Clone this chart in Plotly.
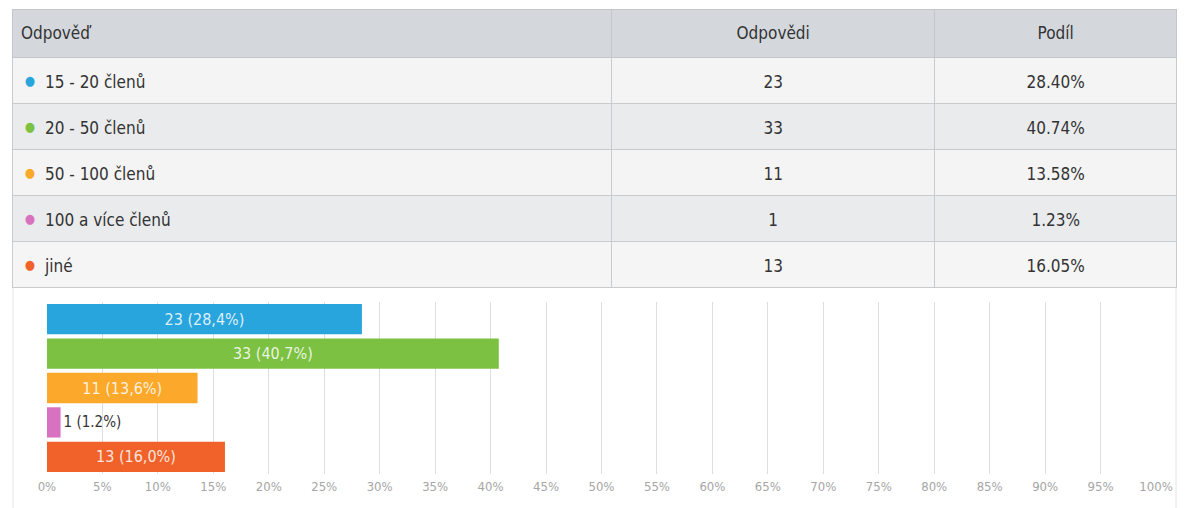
import plotly.graph_objects as go

# ---- data ----
categories = ["15 - 20 členů", "20 - 50 členů", "50 - 100 členů", "100 a více členů", "jiné"]
counts = [23, 33, 11, 1, 13]
shares = [28.40, 40.74, 13.58, 1.23, 16.05]
bar_labels = ["23 (28,4%)", "33 (40,7%)", "11 (13,6%)", "1 (1.2%)", "13 (16,0%)"]
colors = ["#29a5de", "#7cc142", "#fba82b", "#d872c0", "#f1622a"]
tick_vals = list(range(0, 101, 5))
tick_text = [f"{v}%" for v in tick_vals]
headers = ["Odpověď", "Odpovědi", "Podíl"]

W, H = 1194, 508
# the page shows the paper from x=8 to x=1178
X0, XW = 8, 1170
FONT = "DejaVu Sans Condensed, Liberation Sans Narrow, sans-serif"

def px_x(p):
    return min(1.0, max(0.0, (p - X0) / XW))

def px_y(p):
    return 1 - p / H

row_fill = ["#f4f4f4", "#e9ebed", "#f4f4f4", "#e9ebed", "#f5f5f5"]
n = len(categories)
col_w = [600, 323, 243]
text_col_w = [24, 576, 323, 243]
CLEAR = "rgba(0,0,0,0)"
INK = "#333333"

fig = go.Figure()

# table grid: fills and lines
fig.add_trace(go.Table(
    domain=dict(x=[px_x(12), px_x(1178)], y=[px_y(288), px_y(9)]),
    columnwidth=col_w,
    header=dict(
        values=["", "", ""],
        fill_color="#d4d8dd",
        line=dict(color="#c3c6ca", width=1),
        height=48,
    ),
    cells=dict(
        values=[[""] * n, [""] * n, [""] * n],
        fill_color=[row_fill, row_fill, row_fill],
        line=dict(color="#c9cccf", width=1),
        height=46,
    ),
))

# header text, laid over the grid so it sits in the middle of the header row
fig.add_trace(go.Table(
    domain=dict(x=[px_x(12), px_x(1178)], y=[px_y(293), px_y(18)]),
    columnwidth=col_w,
    header=dict(
        values=headers,
        fill_color=CLEAR,
        line=dict(color=CLEAR, width=0),
        align=["left", "center", "center"],
        font=dict(family=FONT, size=17, color=INK),
        height=45,
    ),
    cells=dict(
        values=[[""] * n, [""] * n, [""] * n],
        fill_color=CLEAR,
        line=dict(color=CLEAR, width=0),
        height=46,
    ),
))

# body text (dot column + three data columns), centred in each row
fig.add_trace(go.Table(
    domain=dict(x=[px_x(12), px_x(1178)], y=[px_y(297), px_y(18)]),
    columnwidth=text_col_w,
    header=dict(
        values=["", "", "", ""],
        fill_color=CLEAR,
        line=dict(color=CLEAR, width=0),
        height=49,
    ),
    cells=dict(
        values=[["\u00a0●"] * n, categories, [str(c) for c in counts], [f"{s:.2f}%" for s in shares]],
        fill_color=CLEAR,
        line=dict(color=CLEAR, width=0),
        align=["left", "left", "center", "center"],
        font=dict(
            family=FONT,
            size=[13, 17, 17, 17],
            color=[colors, [INK] * n, [INK] * n, [INK] * n],
        ),
        height=46,
    ),
))

text_colors = ["rgba(255,255,255,0.85)"] * n
text_colors[3] = INK
positions = ["inside"] * n
positions[3] = "outside"

fig.add_trace(go.Bar(
    y=categories,
    x=shares,
    orientation="h",
    marker=dict(color=colors, line=dict(width=0)),
    text=bar_labels,
    textposition=positions,
    insidetextanchor="middle",
    textfont=dict(family=FONT, size=16, color=text_colors),
    outsidetextfont=dict(family=FONT, size=15, color=INK),
    constraintext="none",
    cliponaxis=False,
    hoverinfo="skip",
    showlegend=False,
))

fig.update_layout(
    width=W,
    height=H,
    autosize=False,
    margin=dict(l=0, r=0, t=0, b=0, pad=0),
    paper_bgcolor="white",
    plot_bgcolor="white",
    bargap=0.12,
    xaxis=dict(
        domain=[px_x(46), px_x(1157)],
        range=[0, 100],
        tickvals=tick_vals,
        ticktext=tick_text,
        showgrid=True,
        gridcolor="#dedede",
        gridwidth=1,
        zeroline=False,
        showline=False,
        ticks="",
        ticklabelstandoff=3,
        tickfont=dict(family=FONT, size=13, color="#a6a6a6"),
        anchor="y",
        fixedrange=True,
    ),
    yaxis=dict(
        domain=[px_y(474), px_y(302)],
        autorange="reversed",
        showticklabels=False,
        showgrid=False,
        zeroline=False,
        ticks="",
        fixedrange=True,
    ),
    shapes=[
        dict(type="line", xref="paper", yref="paper", x0=px_x(12), x1=px_x(12),
             y0=0, y1=px_y(288), line=dict(color="#e4e4e4", width=1)),
        dict(type="line", xref="paper", yref="paper", x0=px_x(1177), x1=px_x(1177),
             y0=0, y1=px_y(288), line=dict(color="#e4e4e4", width=1)),
    ],
)

fig.write_html("out.html", config={"displayModeBar": False, "responsive": False},
               post_script="document.body.style.margin='0';document.body.style.padding='0';")
